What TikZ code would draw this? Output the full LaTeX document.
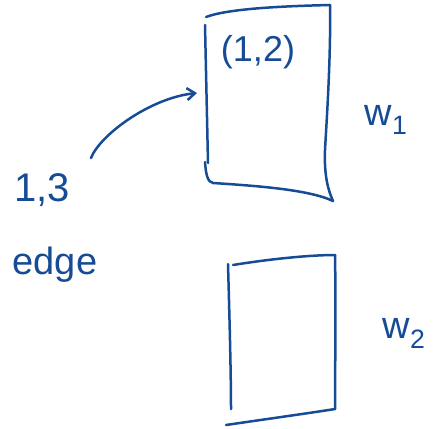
\documentclass[tikz,border=0pt]{standalone}
\usepackage{fontspec}
\setmainfont{Liberation Sans}
\usetikzlibrary{arrows.meta}
\definecolor{ink}{RGB}{22,76,150}
\tikzset{
  pen/.style={draw=ink, line width=2.5pt, line cap=round, line join=round},
  hand/.style={text=ink, inner sep=0pt, font=\fontsize{30}{32}\selectfont}
}
\begin{document}
\begin{tikzpicture}[x=1pt,y=-1pt]
\useasboundingbox (0,0) rectangle (443,428);
% box w1
\draw[pen] (206,17) .. controls (230,8) and (290,6) .. (330,5);
\draw[pen] (330,5) .. controls (331,60) and (326,130) .. (325,150) .. controls (324,175) and (328,190) .. (333,201);
\draw[pen] (205,25) -- (208,163);
\draw[pen] (205,162) .. controls (206,176) and (208,182) .. (213,183) .. controls (260,186) and (310,190) .. (333,201);
% box w2
\draw[pen] (228,264) .. controls (229,300) and (231,370) .. (231,409);
\draw[pen] (233,265) .. controls (270,259) and (310,255) .. (335,255);
\draw[pen] (335,255) .. controls (336,310) and (335,370) .. (335,409);
\draw[pen] (226,425) .. controls (260,420) and (310,413) .. (335,409);
% labels
\node[hand, font=\fontsize{36}{38}\selectfont] (p12) at (258,52) {(1,2)};
\node[hand, font=\fontsize{38}{40}\selectfont] (w1) at (386,120) {w\textsubscript{1}};
\node[hand, font=\fontsize{38}{40}\selectfont] (w2) at (404,333) {w\textsubscript{2}};
\node[hand, font=\fontsize{40}{42}\selectfont] (l13) at (42,190) {1,3};
\node[hand, font=\fontsize{38}{40}\selectfont] (edge) at (55,265) {edge};
% arrow
\coordinate (s) at (91,158);
\coordinate (e) at (197,93);
\draw[pen, -{Straight Barb[length=8pt,width=12pt]}] (s) .. controls (100,135) and (150,98) .. (e);
\end{tikzpicture}
\end{document}
